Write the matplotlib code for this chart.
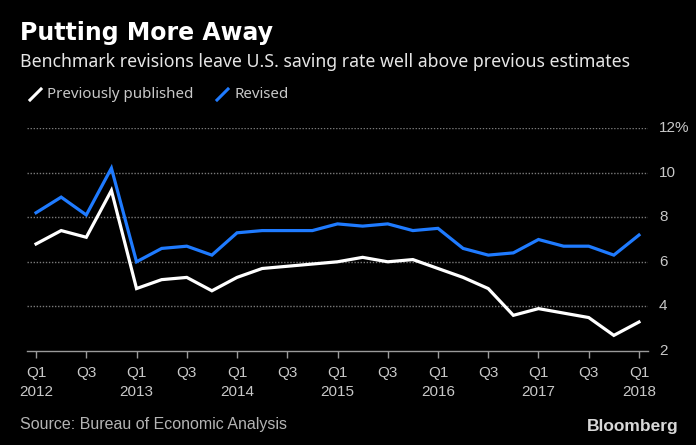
import matplotlib
matplotlib.use("Agg")
import matplotlib.pyplot as plt
from matplotlib.lines import Line2D

# data, quarterly Q1 2012 .. Q1 2018
quarters = ["Q1 2012", "Q2 2012", "Q3 2012", "Q4 2012",
            "Q1 2013", "Q2 2013", "Q3 2013", "Q4 2013",
            "Q1 2014", "Q2 2014", "Q3 2014", "Q4 2014",
            "Q1 2015", "Q2 2015", "Q3 2015", "Q4 2015",
            "Q1 2016", "Q2 2016", "Q3 2016", "Q4 2016",
            "Q1 2017", "Q2 2017", "Q3 2017", "Q4 2017",
            "Q1 2018"]
previously = [6.8, 7.4, 7.1, 9.2,
              4.8, 5.2, 5.3, 4.7,
              5.3, 5.7, 5.8, 5.9,
              6.0, 6.2, 6.0, 6.1,
              5.7, 5.3, 4.8, 3.6,
              3.9, 3.7, 3.5, 2.7,
              3.3]
revised = [8.2, 8.9, 8.1, 10.2,
           6.0, 6.6, 6.7, 6.3,
           7.3, 7.4, 7.4, 7.4,
           7.7, 7.6, 7.7, 7.4,
           7.5, 6.6, 6.3, 6.4,
           7.0, 6.7, 6.7, 6.3,
           7.2]
xtick_labels = ["Q1\n2012", "Q3", "Q1\n2013", "Q3", "Q1\n2014", "Q3", "Q1\n2015",
                "Q3", "Q1\n2016", "Q3", "Q1\n2017", "Q3", "Q1\n2018"]
yticks = [2, 4, 6, 8, 10, 12]
ytick_labels = ["2", "4", "6", "8", "10", "12%"]

BG = "black"
BLUE = "#1f7bff"
GREY = "#c8c8c8"
narrow = ["Liberation Sans", "DejaVu Sans"]
plain = ["Noto Sans", "DejaVu Sans"]

W, H = 696, 445
fig = plt.figure(figsize=(W / 100, H / 100), dpi=100, facecolor=BG)

# axes placed in pixel coords
x0, x1 = 27, 648
ytop, ybot = 128, 351
ax = fig.add_axes([x0 / W, 1 - ybot / H, (x1 - x0) / W, (ybot - ytop) / H])
ax.set_facecolor(BG)

x = list(range(len(quarters)))
ax.plot(x, previously, color="white", lw=2.3, solid_joinstyle="miter")
ax.plot(x, revised, color=BLUE, lw=2.3, solid_joinstyle="miter")

ax.set_xlim(-0.36, 24.36)
ax.set_ylim(2, 12)

for v in yticks[1:]:
    ax.axhline(v, color="#7a7a7a", lw=1, ls=(0, (1, 1.2)), zorder=0)

for s in ["top", "left", "right"]:
    ax.spines[s].set_visible(False)
ax.spines["bottom"].set_color("#9a9a9a")
ax.spines["bottom"].set_linewidth(1)

ax.set_xticks(x[::2])
ax.set_xticklabels(xtick_labels, family=narrow, fontsize=11, color=GREY,
                   linespacing=1.4)
ax.tick_params(axis="x", colors="#9a9a9a", length=5, width=1, pad=6,
               labelcolor=GREY)

ax.yaxis.tick_right()
ax.set_yticks(yticks)
ax.set_yticklabels(ytick_labels, family=narrow, fontsize=11, color=GREY)
ax.tick_params(axis="y", length=0, pad=8, labelcolor=GREY)
for lab in ax.get_yticklabels():
    lab.set_verticalalignment("center")

# titles
fig.text(20 / W, 1 - 33 / H, "Putting More Away", color="white",
         fontsize=17, fontweight="bold", family=["DejaVu Sans"], va="center")
fig.text(20 / W, 1 - 62 / H,
         "Benchmark revisions leave U.S. saving rate well above previous estimates",
         color="#e6e6e6", fontsize=12.75, family=plain, va="center")

# legend
def legend_item(xp, color, label):
    fig.add_artist(Line2D([xp / W, (xp + 11) / W], [1 - 100 / H, 1 - 89 / H],
                          color=color, lw=2.2))
    fig.text((xp + 17) / W, 1 - 94 / H, label, color=GREY, fontsize=10.9,
             family=plain, va="center")

legend_item(30, "white", "Previously published")
legend_item(217, BLUE, "Revised")

# footer
fig.text(20 / W, 1 - 424 / H, "Source: Bureau of Economic Analysis",
         color="#b4b4b4", fontsize=11.5, family=narrow, va="center")
fig.text(679 / W, 1 - 427 / H, "Bloomberg", color="#d8d8d8", fontsize=12.5,
         fontweight="bold", family=["Liberation Sans", "DejaVu Sans"],
         ha="right", va="center")

fig.savefig("out.png", dpi=100, facecolor=BG)
